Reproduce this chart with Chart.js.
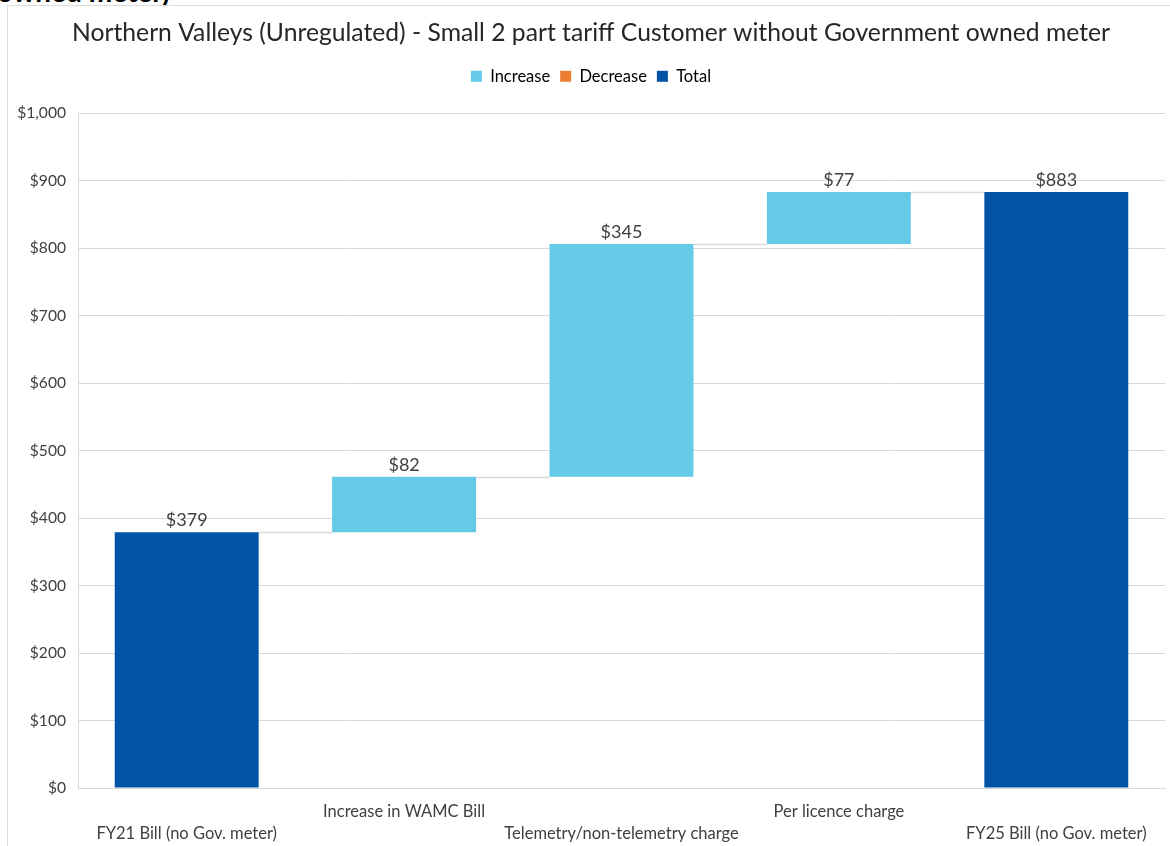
<!DOCTYPE html>
<html>
<head>
<meta charset="utf-8">
<script src="https://cdn.jsdelivr.net/npm/chart.js@4.4.1/dist/chart.umd.min.js"></script>
<style>
  html, body { margin: 0; padding: 0; background: #fff; width: 1170px; height: 846px; overflow: hidden; position: relative; }
  #heading { position: absolute; left: -3px; top: -23px; font: bold 28px Lato, sans-serif; line-height: 28px; color: #000; white-space: nowrap; }
  #frame { position: absolute; left: 7px; top: 5px; width: 1180px; height: 860px; border: 1.5px solid #dcdcdc; box-sizing: border-box; }
  #wrap { position: absolute; left: 8px; top: 6px; width: 1167px; height: 840px; }
</style>
</head>
<body>
<div id="heading">owned meter)</div>
<div id="frame"></div>
<div id="wrap"><canvas id="c"></canvas></div>
<script>
// Bill components, in dollars
const categories = [
  'FY21 Bill (no Gov. meter)',
  'Increase in WAMC Bill',
  'Telemetry/non-telemetry charge',
  'Per licence charge',
  'FY25 Bill (no Gov. meter)'
];
const amounts = [379, 82, 345, 77, 883];
const kinds = ['total', 'increase', 'increase', 'increase', 'total'];

// Legend entries and their colours
const legendNames = ['Increase', 'Decrease', 'Total'];
const legendKinds = ['increase', 'decrease', 'total'];
const kindColors = { increase: '#64CAE7', decrease: '#ED7D31', total: '#0053A6' };

// Build floating [start, end] ranges for the waterfall
const ranges = [];
let running = 0;
amounts.forEach((v, i) => {
  if (kinds[i] === 'total') { ranges.push([0, v]); running = v; }
  else if (kinds[i] === 'increase') { ranges.push([running, running + v]); running += v; }
  else { ranges.push([running - v, running]); running -= v; }
});

const FONT = 'Lato, "Open Sans", sans-serif';
const TEXT = '#404040';
const GRID = '#d9d9d9';

// Thin connectors from the top of each bar to the next bar
const connectors = {
  id: 'connectors',
  beforeDatasetsDraw(chart) {
    const meta = chart.getDatasetMeta(0);
    const y = chart.scales.y;
    const ctx = chart.ctx;
    ctx.save();
    ctx.strokeStyle = GRID;
    ctx.lineWidth = 1.5;
    for (let i = 0; i < meta.data.length - 1; i++) {
      const a = meta.data[i], b = meta.data[i + 1];
      const level = kinds[i] === 'decrease' ? ranges[i][0] : ranges[i][1];
      const py = Math.round(y.getPixelForValue(level)) + 0.5;
      ctx.beginPath();
      ctx.moveTo(a.x + a.width / 2, py);
      ctx.lineTo(b.x - b.width / 2, py);
      ctx.stroke();
    }
    ctx.restore();
  }
};

// Dollar value above each bar
const valueLabels = {
  id: 'valueLabels',
  afterDatasetsDraw(chart) {
    const meta = chart.getDatasetMeta(0);
    const y = chart.scales.y;
    const ctx = chart.ctx;
    ctx.save();
    ctx.font = '18px ' + FONT;
    ctx.fillStyle = TEXT;
    ctx.textAlign = 'center';
    ctx.textBaseline = 'middle';
    meta.data.forEach((bar, i) => {
      const top = y.getPixelForValue(Math.max(ranges[i][0], ranges[i][1]));
      ctx.fillText('$' + amounts[i].toLocaleString('en-US'), bar.x, top - 12);
    });
    ctx.restore();
  }
};

// Extra room between the legend and the plot
const legendGap = {
  id: 'legendGap',
  afterInit(chart) {
    const lg = chart.legend;
    if (!lg || lg._gapPatched) return;
    const fit = lg.fit.bind(lg);
    lg.fit = function () { fit(); this.height += 18.5; };
    lg._gapPatched = true;
  }
};

new Chart(document.getElementById('c'), {
  type: 'bar',
  data: {
    labels: categories,
    datasets: [{
      data: ranges,
      backgroundColor: kinds.map(k => kindColors[k]),
      borderWidth: 0,
      categoryPercentage: 1,
      barPercentage: 0.662
    }]
  },
  options: {
    responsive: true,
    maintainAspectRatio: false,
    animation: false,
    events: [],
    layout: { padding: { left: 9, right: 10, top: 0, bottom: 0 } },
    plugins: {
      title: {
        display: true,
        text: 'Northern Valleys (Unregulated) - Small 2 part tariff Customer without Government owned meter',
        color: '#262626',
        font: { family: FONT, size: 24.7, weight: 'normal', lineHeight: 1.2 },
        padding: { top: 12, bottom: 10.4 }
      },
      legend: {
        display: true,
        position: 'top',
        onClick: null,
        labels: {
          color: TEXT,
          font: { family: FONT, size: 16.5, lineHeight: 1.2 },
          boxWidth: 11,
          boxHeight: 11,
          padding: 10,
          generateLabels() {
            return legendNames.map((name, i) => ({
              text: name,
              fillStyle: kindColors[legendKinds[i]],
              strokeStyle: kindColors[legendKinds[i]],
              lineWidth: 0,
              hidden: false,
              datasetIndex: 0
            }));
          }
        }
      },
      tooltip: { enabled: false }
    },
    scales: {
      x: {
        grid: { display: false, drawTicks: false },
        border: { display: true, color: GRID, width: 1 },
        ticks: {
          autoSkip: false,
          maxRotation: 0,
          minRotation: 0,
          padding: 12.5,
          color: TEXT,
          font: { family: FONT, size: 16.5, lineHeight: 1.34 },
          callback: (v, i) => (i % 2 === 1 ? [categories[i], ''] : ['', categories[i]])
        },
        afterFit(scale) { scale.height = 58; }
      },
      y: {
        min: 0,
        max: 1000,
        grid: { color: GRID, lineWidth: 1, drawTicks: false },
        border: { display: true, color: GRID, width: 1 },
        ticks: {
          stepSize: 100,
          padding: 12,
          color: TEXT,
          font: { family: FONT, size: 15.6 },
          callback: v => '$' + Number(v).toLocaleString('en-US')
        },
        afterFit(scale) { scale.width = 61; }
      }
    }
  },
  plugins: [connectors, valueLabels, legendGap]
});
</script>
</body>
</html>
